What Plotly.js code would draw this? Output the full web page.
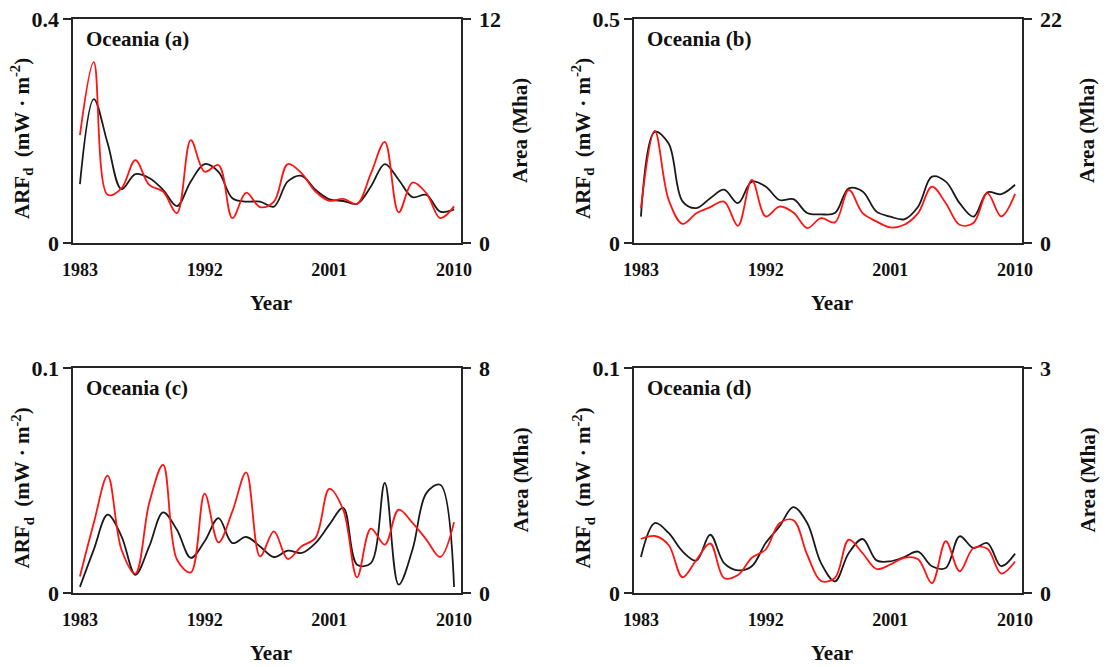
<!DOCTYPE html>
<html>
<head>
<meta charset="utf-8">
<script src="https://cdn.plot.ly/plotly-3.0.1.min.js"></script>
<style>
  html, body { margin: 0; padding: 0; background: #fff; }
  #chart { width: 1108px; height: 667px; }
</style>
</head>
<body>
<div id="chart"></div>
<script>
// Annual series, Oceania, 1983-2010
const years = [1983, 1984, 1985, 1986, 1987, 1988, 1989, 1990, 1991, 1992,
               1993, 1994, 1995, 1996, 1997, 1998, 1999, 2000, 2001, 2002,
               2003, 2004, 2005, 2006, 2007, 2008, 2009, 2010];
const yearTicks = [1983, 1992, 2001, 2010];

// ARFd (mW·m-2), left axis
const arfA = [0.105, 0.257, 0.178, 0.096, 0.123, 0.116, 0.095, 0.066, 0.110, 0.141,
              0.127, 0.080, 0.074, 0.074, 0.065, 0.110, 0.120, 0.095, 0.078, 0.075,
              0.070, 0.101, 0.141, 0.113, 0.082, 0.086, 0.056, 0.060];
const arfB = [0.059, 0.248, 0.222, 0.093, 0.078, 0.100, 0.119, 0.089, 0.137, 0.126,
              0.096, 0.098, 0.067, 0.064, 0.067, 0.122, 0.115, 0.070, 0.059, 0.053,
              0.081, 0.148, 0.137, 0.089, 0.059, 0.113, 0.109, 0.130];
const arfC = [0.0027, 0.0193, 0.0348, 0.0252, 0.0081, 0.0207, 0.0358, 0.0281, 0.0156, 0.0230,
              0.0333, 0.0222, 0.0249, 0.0207, 0.0160, 0.0188, 0.0178, 0.0222, 0.0304, 0.0378,
              0.0126, 0.0133, 0.0489, 0.0037, 0.0193, 0.0444, 0.0481, 0.0027];
const arfD = [0.0160, 0.0311, 0.0267, 0.0185, 0.0144, 0.0259, 0.0133, 0.0101, 0.0119, 0.0222,
              0.0296, 0.0382, 0.0311, 0.0133, 0.0052, 0.0178, 0.0240, 0.0145, 0.0141, 0.0160,
              0.0184, 0.0119, 0.0111, 0.0252, 0.0200, 0.0222, 0.0119, 0.0175];

// Area (Mha), right axis
const areaA = [5.78, 9.69, 2.58, 2.93, 4.44, 3.11, 2.76, 1.60, 5.51, 3.82,
               4.18, 1.33, 2.70, 1.92, 2.22, 4.23, 3.73, 2.76, 2.26, 2.36,
               2.10, 3.73, 5.42, 1.64, 3.24, 2.67, 1.33, 1.96];
const areaB = [3.42, 11.02, 4.24, 1.89, 2.93, 3.52, 4.07, 1.69, 6.19, 2.61,
               3.58, 3.00, 1.47, 2.44, 2.02, 5.21, 2.93, 2.12, 1.53, 1.79,
               2.93, 5.54, 3.91, 1.79, 1.96, 4.89, 2.61, 4.82];
const areaC = [0.59, 2.49, 4.17, 1.54, 0.69, 3.20, 4.56, 1.19, 0.73, 3.53,
               1.80, 2.90, 4.29, 1.30, 2.19, 1.21, 1.66, 1.96, 3.70, 2.96,
               0.56, 2.29, 1.72, 2.96, 2.49, 1.90, 1.28, 2.52];
const areaD = [0.72, 0.76, 0.64, 0.21, 0.44, 0.66, 0.20, 0.24, 0.47, 0.58,
               0.93, 0.97, 0.51, 0.16, 0.20, 0.71, 0.53, 0.32, 0.38, 0.47,
               0.45, 0.13, 0.69, 0.29, 0.60, 0.59, 0.26, 0.42];

// Axis maxima and labels
const arfMax = [0.4, 0.5, 0.1, 0.1];
const areaMax = [12, 22, 8, 3];
const panelLabels = ['Oceania (a)', 'Oceania (b)', 'Oceania (c)', 'Oceania (d)'];

const arfSeries = [arfA, arfB, arfC, arfD];
const areaSeries = [areaA, areaB, areaC, areaD];

const W = 1108, H = 667;
const px = v => v / W;
const py = v => 1 - v / H;

// Plot boxes in pixels: left, right, top, bottom
const boxes = [
  {l: 73,  r: 461,  t: 19,  b: 243, rightTitleX: 520},
  {l: 634, r: 1022, t: 19,  b: 243, rightTitleX: 1087},
  {l: 73,  r: 461,  t: 368, b: 593, rightTitleX: 520},
  {l: 634, r: 1022, t: 368, b: 593, rightTitleX: 1087}
];

const serif = 'Times New Roman, Liberation Serif, serif';
const axisColor = '#262626';
const tickFontY = {family: serif, size: 22, color: '#111', weight: 'bold'};
const tickFontX = {family: serif, size: 18, color: '#111', weight: 'bold'};
const titleFont = {family: serif, size: 21, color: '#111', weight: 'bold'};

const traces = [];
const layout = {
  width: W, height: H,
  margin: {l: 0, r: 0, t: 0, b: 0},
  paper_bgcolor: '#fff', plot_bgcolor: '#fff',
  showlegend: false,
  annotations: []
};

boxes.forEach((bx, i) => {
  const xi = i === 0 ? '' : String(i + 1);
  const yl = String(2 * i + 1), yr = String(2 * i + 2);
  const yLeftName = yl === '1' ? 'yaxis' : 'yaxis' + yl;
  const yLeftRef = yl === '1' ? 'y' : 'y' + yl;
  const yRightRef = 'y' + yr;

  layout['xaxis' + xi] = {
    domain: [px(bx.l), px(bx.r)],
    anchor: yLeftRef,
    range: [1982.5, 2010.5],
    tickmode: 'array', tickvals: yearTicks, ticktext: yearTicks.map(String),
    ticks: '', showgrid: false, zeroline: false,
    showline: true, mirror: true, linecolor: axisColor, linewidth: 1.6,
    tickfont: tickFontX, ticklabelstandoff: 10
  };
  layout[yLeftName] = {
    domain: [py(bx.b), py(bx.t)],
    anchor: 'x' + xi,
    range: [0, arfMax[i]],
    tickmode: 'array', tickvals: [0, arfMax[i]], ticktext: ['0', String(arfMax[i])],
    ticks: 'outside', ticklen: 8, tickwidth: 1.6, tickcolor: axisColor,
    showgrid: false, zeroline: false,
    showline: true, linecolor: axisColor, linewidth: 1.6,
    tickfont: tickFontY
  };
  layout['yaxis' + yr] = {
    domain: [py(bx.b), py(bx.t)],
    anchor: 'x' + xi,
    overlaying: yLeftRef, side: 'right',
    range: [0, areaMax[i]],
    tickmode: 'array', tickvals: [0, areaMax[i]], ticktext: ['0', String(areaMax[i])],
    ticks: 'outside', ticklen: 8, tickwidth: 1.6, tickcolor: axisColor,
    showgrid: false, zeroline: false,
    showline: true, linecolor: axisColor, linewidth: 1.6,
    tickfont: tickFontY, ticklabelstandoff: 4
  };

  traces.push({
    type: 'scatter', mode: 'lines', name: 'ARFd',
    x: years, y: arfSeries[i],
    xaxis: 'x' + xi, yaxis: yLeftRef,
    line: {color: '#1a1a1a', width: 1.8, shape: 'spline', smoothing: 1},
    hoverinfo: 'x+y'
  });
  traces.push({
    type: 'scatter', mode: 'lines', name: 'Area',
    x: years, y: areaSeries[i],
    xaxis: 'x' + xi, yaxis: yRightRef,
    line: {color: '#ff1414', width: 1.8, shape: 'spline', smoothing: 1},
    hoverinfo: 'x+y'
  });

  const midY = (bx.t + bx.b) / 2;
  // Panel label
  layout.annotations.push({
    xref: 'paper', yref: 'paper', x: px(bx.l + 11), y: py(bx.t + 20),
    xanchor: 'left', yanchor: 'middle', showarrow: false,
    text: panelLabels[i], font: titleFont
  });
  // Left axis title
  layout.annotations.push({
    xref: 'paper', yref: 'paper', x: px(bx.l - 51), y: py(midY + 8),
    xanchor: 'center', yanchor: 'middle', showarrow: false, textangle: -90,
    text: 'ARF<sub>d</sub>  (mW · m<sup>-2</sup>)', font: titleFont
  });
  // Right axis title
  layout.annotations.push({
    xref: 'paper', yref: 'paper', x: px(bx.rightTitleX), y: py(midY),
    xanchor: 'center', yanchor: 'middle', showarrow: false, textangle: -90,
    text: 'Area (Mha)', font: titleFont
  });
  // X axis title
  layout.annotations.push({
    xref: 'paper', yref: 'paper', x: px((bx.l + bx.r) / 2 + 4), y: py(bx.b + 60),
    xanchor: 'center', yanchor: 'middle', showarrow: false,
    text: 'Year', font: titleFont
  });
});

Plotly.newPlot('chart', traces, layout, {displayModeBar: false, staticPlot: true});
</script>
</body>
</html>
